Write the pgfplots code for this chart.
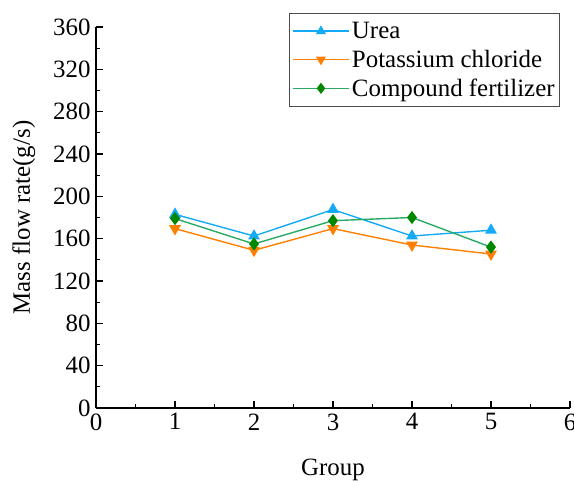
\documentclass[border=0pt]{standalone}
\usepackage{fontspec}
\setmainfont{Liberation Serif}
\usepackage{pgfplots}
\pgfplotsset{compat=1.18}
\definecolor{ureablue}{RGB}{20,170,245}
\definecolor{kclorange}{RGB}{255,128,0}
\definecolor{compline}{RGB}{40,170,100}
\definecolor{compmark}{RGB}{0,135,0}
\begin{document}
\begin{tikzpicture}
\begin{axis}[
    scale only axis,
    width=474bp, height=381bp,
    xmin=0, xmax=6, ymin=0, ymax=360,
    axis x line*=bottom, axis y line*=left,
    axis line style={line width=1.2pt, -},
    xtick={0,1,...,6}, ytick={0,40,...,360},
    minor x tick num=1, minor y tick num=1,
    tick align=inside,
    major tick length=7bp, minor tick length=4bp,
    tick style={line width=1.2pt, black},
    font=\fontsize{25}{29}\selectfont,
    ticklabel style={font=\fontsize{25}{29}\selectfont},
    xticklabel style={yshift=-2bp},
    yticklabel style={xshift=-2bp},
    /pgf/number format/assume math mode=true,
    xlabel={Group}, ylabel={Mass flow rate(g/s)},
    xlabel style={yshift=-22bp},
    ylabel style={yshift=11bp},
    legend style={at={(0.979,1.037)}, anchor=north east, draw=black!70,
        line width=0.8pt, font=\fontsize{25}{27}\selectfont,
        row sep=6bp, inner xsep=3bp, inner ysep=7bp},
    legend cell align=left,
    legend image code/.code={\draw[mark repeat=2,mark phase=2,mark size=4.5pt]
        plot coordinates {(0cm,0cm) (1.0cm,0cm) (2.0cm,0cm)};},
    every axis plot/.append style={line width=1.4pt},
]
\addplot[color=ureablue, mark=triangle*, mark size=5.5pt, mark options={fill=ureablue}]
    coordinates {(1,183) (2,162.5) (3,187.5) (4,162.5) (5,168)};
\addplot[color=kclorange, mark=triangle*, mark size=5.5pt, mark options={rotate=180, fill=kclorange}]
    coordinates {(1,169.5) (2,149) (3,169.5) (4,154) (5,145.5)};
\addplot[color=compline, mark=diamond*, mark size=5.5pt, mark options={fill=compmark, draw=compmark}]
    coordinates {(1,179) (2,155) (3,177) (4,180) (5,152)};
\legend{Urea, Potassium chloride, Compound fertilizer}
\end{axis}
\pgfresetboundingbox
\path (-96bp,-73bp) rectangle (478bp,408bp);
\end{tikzpicture}
\end{document}
